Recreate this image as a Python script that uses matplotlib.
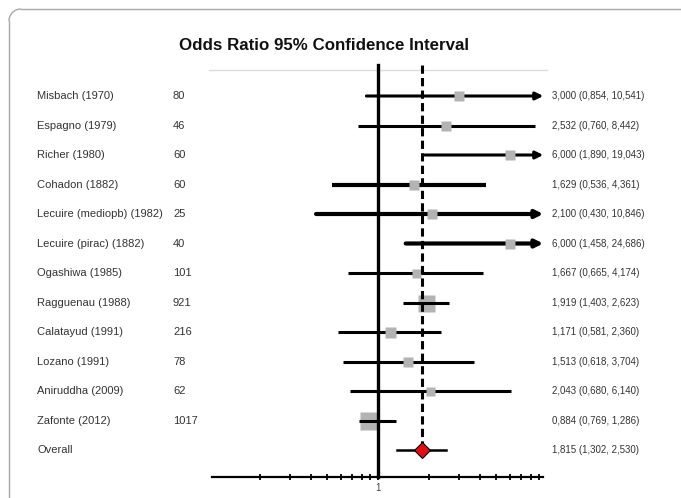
import numpy as np
import matplotlib
matplotlib.use('Agg')
import matplotlib.pyplot as plt
from matplotlib.patches import Arc
from matplotlib.lines import Line2D
from matplotlib.transforms import blended_transform_factory
from matplotlib.ticker import FixedLocator, NullFormatter, FixedFormatter

plt.rcParams['font.family'] = ['Liberation Sans', 'DejaVu Sans']

# study data
studies = ['Misbach (1970)', 'Espagno (1979)', 'Richer (1980)', 'Cohadon (1882)',
           'Lecuire (mediopb) (1982)', 'Lecuire (pirac) (1882)', 'Ogashiwa (1985)',
           'Ragguenau (1988)', 'Calatayud (1991)', 'Lozano (1991)',
           'Aniruddha (2009)', 'Zafonte (2012)']
n_patients = ['80', '46', '60', '60', '25', '40', '101', '921', '216', '78', '62', '1017']
odds = [3.000, 2.532, 6.000, 1.629, 2.100, 6.000, 1.667, 1.919, 1.171, 1.513, 2.043, 0.884]
ci_low = [0.854, 0.760, 1.890, 0.536, 0.430, 1.458, 0.665, 1.403, 0.581, 0.618, 0.680, 0.769]
ci_high = [10.541, 8.442, 19.043, 4.361, 10.846, 24.686, 4.174, 2.623, 2.360, 3.704, 6.140, 1.286]
ci_text = ['3,000 (0,854, 10,541)', '2,532 (0,760, 8,442)', '6,000 (1,890, 19,043)',
           '1,629 (0,536, 4,361)', '2,100 (0,430, 10,846)', '6,000 (1,458, 24,686)',
           '1,667 (0,665, 4,174)', '1,919 (1,403, 2,623)', '1,171 (0,581, 2,360)',
           '1,513 (0,618, 3,704)', '2,043 (0,680, 6,140)', '0,884 (0,769, 1,286)']
# relative weight of each study (square size)
weights = [10, 10, 10, 10, 10, 10, 9, 17, 11, 10, 9, 18]

overall_or = 1.815
overall_low = 1.302
overall_high = 2.530
overall_text = '1,815 (1,302, 2,530)'

W, H = 681, 498
fig = plt.figure(figsize=(W / 100, H / 100), dpi=100)

# frame: left and top edges with a rounded top-left corner (pixel coords, y down)
fx, fy, r = 9, 9, 12
fcol = '#a8a8a8'
def px(x, y):
    return x / W, 1 - y / H
fig.lines.append(Line2D(*zip(px(fx, H + 5), px(fx, fy + r)),
                        transform=fig.transFigure, color=fcol, lw=1.0))
fig.lines.append(Line2D(*zip(px(fx + r, fy), px(W + 5, fy)),
                        transform=fig.transFigure, color=fcol, lw=1.0))
corner = Arc(px(fx + r, fy + r), 2 * r / W, 2 * r / H, theta1=90, theta2=180,
             transform=fig.transFigure, color=fcol, lw=1.0)
fig.patches.append(corner)

# axes placed so that 0.1 -> 209 px, 10 -> 547 px
ax = fig.add_axes([209 / W, 1 - 477 / H, 338 / W, (477 - 70) / H])
ax.set_xscale('log')
ax.set_xlim(0.1, 10)
row0, step = 96, 29.5
ax.set_ylim((477 - row0) / step, (70 - row0) / step)

for s in ['left', 'right']:
    ax.spines[s].set_visible(False)
ax.spines['top'].set_color('#dddddd')
ax.spines['top'].set_linewidth(1.0)
ax.spines['bottom'].set_linewidth(1.6)
ax.spines['bottom'].set_bounds(0.104, 9.5)
ax.set_yticks([])

ax.xaxis.set_major_locator(FixedLocator([1]))
ax.xaxis.set_major_formatter(FixedFormatter(['1']))
minors = [0.2, 0.3, 0.4, 0.5, 0.6, 0.7, 0.8, 0.9, 2, 3, 4, 5, 6, 7, 8, 9]
ax.xaxis.set_minor_locator(FixedLocator(minors))
ax.xaxis.set_minor_formatter(NullFormatter())
ax.tick_params(axis='x', which='both', direction='inout', length=5, width=1.3,
               labelsize=7, labelcolor='#444444', pad=2)

xmax_arrow = 9.5
for i in range(len(studies)):
    lw = 3.0 if 3 <= i <= 5 else 2.2
    if ci_high[i] > 10:
        ax.annotate('', xy=(xmax_arrow, i), xytext=(ci_low[i], i),
                    arrowprops=dict(arrowstyle='-|>', color='k', lw=lw,
                                    mutation_scale=11, shrinkA=0, shrinkB=0),
                    zorder=3)
    else:
        ax.plot([ci_low[i], ci_high[i]], [i, i], color='k', lw=lw,
                solid_capstyle='butt', zorder=3)
    big = weights[i] > 14
    ax.plot(odds[i], i, marker='s', ms=weights[i] * 0.72, color='#b3b3b3',
            mec='none', zorder=2 if big else 4)

# overall row
k = len(studies)
ax.plot([overall_low, overall_high], [k, k], color='k', lw=1.8, zorder=3)
ax.plot(overall_or, k, marker='D', ms=8.3, color='#e01010', mec='k', mew=0.8,
        zorder=7)

# reference lines
ytop = (65 - row0) / step
ybot = (477 - row0) / step
ax.plot([1, 1], [ytop, ybot], color='k', lw=2.4, clip_on=False, zorder=5)
dl, = ax.plot([overall_or, overall_or], [ytop, k], color='k', lw=2.2,
              clip_on=False, zorder=5)
dl.set_dashes((2.7, 1.4))

# text columns
tr = blended_transform_factory(fig.transFigure, ax.transData)
tcol = '#333333'
for i in range(len(studies)):
    ax.text(37 / W, i, studies[i], transform=tr, ha='left', va='center',
            fontsize=8, color=tcol, clip_on=False)
    ax.text(173 / W, i, n_patients[i], transform=tr, ha='left', va='center',
            fontsize=8, color=tcol, clip_on=False)
    ax.text(552 / W, i, ci_text[i], transform=tr, ha='left', va='center',
            fontsize=7, color=tcol, clip_on=False)
ax.text(37 / W, k, 'Overall', transform=tr, ha='left', va='center',
        fontsize=8, color=tcol, clip_on=False)
ax.text(552 / W, k, overall_text, transform=tr, ha='left', va='center',
        fontsize=7, color=tcol, clip_on=False)

fig.text(324 / W, 1 - 46 / H, 'Odds Ratio 95% Confidence Interval',
         ha='center', va='center', fontsize=12.2, fontweight='bold', color='#111111')

fig.savefig('out.png', dpi=100)
